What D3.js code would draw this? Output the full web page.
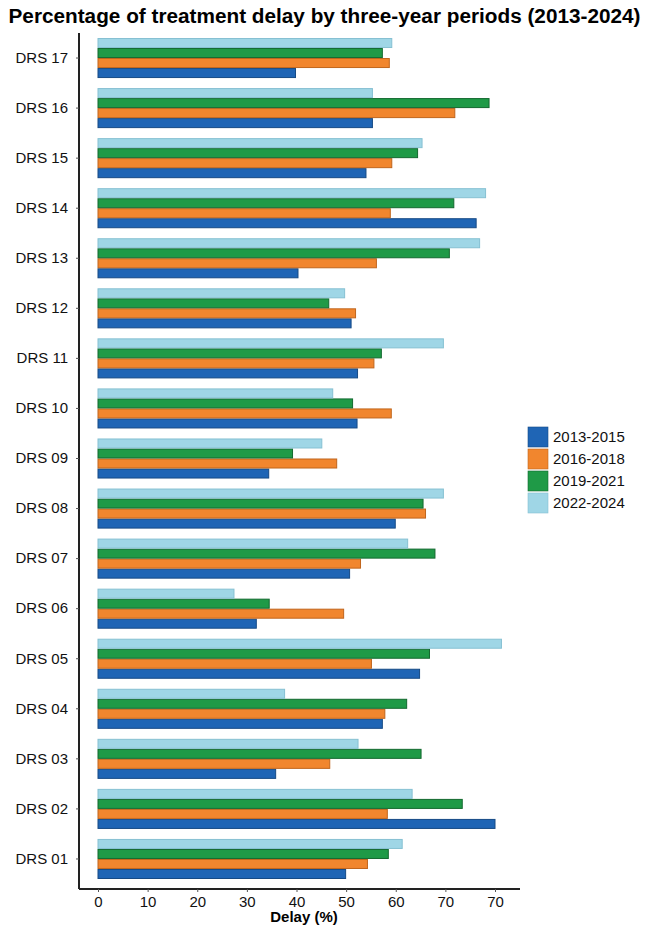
<!DOCTYPE html>
<html>
<head>
<meta charset="utf-8">
<script src="https://cdn.jsdelivr.net/npm/d3@7"></script>
<style>
  body { margin: 0; background: #fff; }
  svg { display: block; font-family: "Liberation Sans", Arial, sans-serif; }
</style>
</head>
<body>
<div class="canvas"></div>
<script>
/////////////////////////////////
//** DATA **//

const regions = ['DRS 17', 'DRS 16', 'DRS 15', 'DRS 14', 'DRS 13', 'DRS 12', 'DRS 11', 'DRS 10', 'DRS 09',
    'DRS 08', 'DRS 07', 'DRS 06', 'DRS 05', 'DRS 04', 'DRS 03', 'DRS 02', 'DRS 01'];

const periods = ['2013-2015', '2016-2018', '2019-2021', '2022-2024'];

// one array per period, same order as regions
const p2013 = [39.8, 55.3, 54.0, 76.2, 40.3, 51.0, 52.3, 52.2, 34.4, 59.9, 50.7, 31.9, 64.8, 57.3, 35.8, 80.0, 49.9];
const p2016 = [58.7, 71.9, 59.2, 58.9, 56.1, 51.9, 55.6, 59.1, 48.1, 66.0, 52.9, 49.5, 55.1, 57.8, 46.7, 58.3, 54.3];
const p2019 = [57.3, 78.8, 64.4, 71.7, 70.8, 46.5, 57.1, 51.3, 39.2, 65.5, 67.9, 34.5, 66.8, 62.2, 65.1, 73.4, 58.5];
const p2022 = [59.2, 55.3, 65.3, 78.1, 76.9, 49.7, 69.6, 47.3, 45.1, 69.6, 62.4, 27.4, 81.3, 37.6, 52.4, 63.3, 61.3];

// tick values and the labels printed under them (the original repeats 70)
const tickValues = [0, 10, 20, 30, 40, 50, 60, 70, 80];
const tickLabels = ['0', '10', '20', '30', '40', '50', '60', '70', '70'];

const series = { '2013-2015': p2013, '2016-2018': p2016, '2019-2021': p2019, '2022-2024': p2022 };

/////////////////////////////////
//** DIMENSIONS **//

const dims = { width: 649, height: 926 };
const plot = { left: 79, right: 520, top: 33, bottom: 889 };

const fills = { '2013-2015': '#1f65b5', '2016-2018': '#f1862e', '2019-2021': '#1f9a47', '2022-2024': '#9fd6e6' };
const strokes = { '2013-2015': '#164a85', '2016-2018': '#c0651c', '2019-2021': '#13692f', '2022-2024': '#86c0d2' };

/////////////////////////////////
//** SVG CONTAINER **//

const svg = d3.select('.canvas')
    .append('svg')
    .attr('width', dims.width)
    .attr('height', dims.height);

// scales
const x = d3.scaleLinear()
    .domain([0, 80])
    .range([98, 495]);

const y = d3.scaleBand()
    .domain(regions)
    .range([plot.top, 884])
    .paddingInner(0.2)
    .paddingOuter(0.1);

// inside a group the newest period sits on top
const yInner = d3.scaleBand()
    .domain(periods.slice().reverse())
    .range([0, y.bandwidth()]);

// bars
const groups = svg.selectAll('g.group')
    .data(regions)
    .enter()
    .append('g')
    .attr('class', 'group')
    .attr('transform', d => `translate(0, ${y(d)})`);

groups.selectAll('rect')
    .data((d, i) => periods.map(p => ({ period: p, value: series[p][i] })))
    .enter()
    .append('rect')
    .attr('x', x(0))
    .attr('y', d => yInner(d.period) + 0.5)
    .attr('width', d => x(d.value) - x(0))
    .attr('height', yInner.bandwidth() - 1)
    .attr('fill', d => fills[d.period])
    .attr('stroke', d => strokes[d.period])
    .attr('stroke-width', 1);

// x axis
const xAxis = d3.axisBottom(x)
    .tickValues(tickValues)
    .tickFormat((d, i) => tickLabels[i])
    .tickSize(3)
    .tickSizeOuter(0);

const gx = svg.append('g')
    .attr('transform', `translate(0, ${plot.bottom})`)
    .call(xAxis);

gx.select('.domain')
    .attr('d', `M${plot.left},0H${plot.right}`)
    .attr('stroke', '#222')
    .attr('stroke-width', 2);

gx.selectAll('.tick line').attr('stroke', '#555');
gx.selectAll('.tick text')
    .attr('y', 7)
    .attr('fill', '#111')
    .style('font-size', '15px')
    .style('font-family', '"Liberation Sans", Arial, sans-serif');

// y axis
const yAxis = d3.axisLeft(y)
    .tickSize(3)
    .tickSizeOuter(0);

const gy = svg.append('g')
    .attr('transform', `translate(${plot.left}, 0)`)
    .call(yAxis);

gy.select('.domain')
    .attr('d', `M0,${plot.top}V${plot.bottom}`)
    .attr('stroke', '#222')
    .attr('stroke-width', 2);

gy.selectAll('.tick line').attr('stroke', '#555');
gy.selectAll('.tick text')
    .attr('x', -11)
    .attr('fill', '#111')
    .style('font-size', '15px')
    .style('font-family', '"Liberation Sans", Arial, sans-serif');

// axis title
svg.append('text')
    .attr('x', 304)
    .attr('y', 922)
    .attr('text-anchor', 'middle')
    .style('font-size', '15px')
    .style('font-weight', 'bold')
    .text('Delay (%)');

// chart title (condensed bold look)
svg.append('text')
    .attr('x', 324.5)
    .attr('y', 23)
    .attr('text-anchor', 'middle')
    .attr('textLength', 632)
    .attr('lengthAdjust', 'spacingAndGlyphs')
    .style('font-size', '20px')
    .style('font-weight', 'bold')
    .text('Percentage of treatment delay by three-year periods (2013-2024)');

/////////////////////////////////
//** LEGEND **//

const legend = svg.append('g')
    .attr('transform', 'translate(528, 427)');

const items = legend.selectAll('g')
    .data(periods)
    .enter()
    .append('g')
    .attr('transform', (d, i) => `translate(0, ${i * 22})`);

items.append('rect')
    .attr('width', 20)
    .attr('height', 20)
    .attr('fill', d => fills[d])
    .attr('stroke', d => strokes[d])
    .attr('stroke-width', 0.6);

items.append('text')
    .attr('x', 25)
    .attr('y', 10)
    .attr('dy', '0.35em')
    .style('font-size', '15px')
    .attr('fill', '#111')
    .text(d => d);
</script>
</body>
</html>
